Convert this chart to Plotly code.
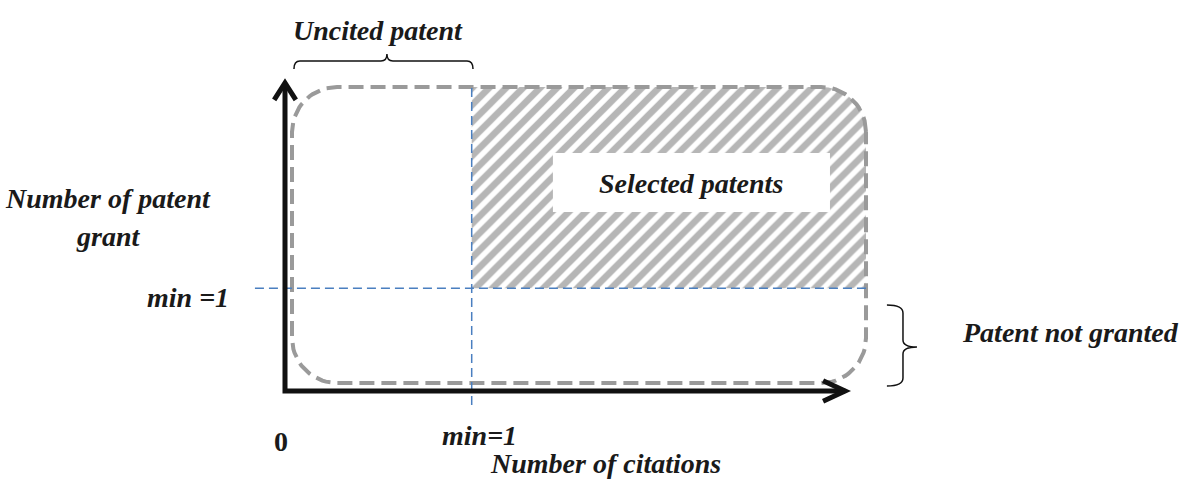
import numpy as np
import plotly.graph_objects as go

# conceptual axes: citations (x) and patent grants (y)
citation_marks = [0, 1]
citation_labels = ["<b>0</b>", "<b><i>min=1</i></b>"]
grant_marks = [1]
grant_labels = ["<b><i>min =1</i></b>"]
axis_end = 3

region_labels = ["Selected patents", "Uncited patent", "Patent not granted"]
axis_titles = ["Number of citations", "Number of patent", "grant"]

FONT = "Liberation Serif"
GRAY = "#9a9a9a"
BLUE = "#4a7fc0"

# rounded dashed envelope (data units)
box_l, box_r, box_b, box_t = 0.0375, 3.112, 0.078, 2.96
rx, ry = 0.241, 0.438


def arc(cx, cy, a0, a1, n=20):
    t = np.linspace(np.radians(a0), np.radians(a1), n)
    return list(cx + rx * np.cos(t)), list(cy + ry * np.sin(t))


def rounded_box():
    xs, ys = [], []
    for cx, cy, a0, a1 in [(box_r - rx, box_t - ry, 0, 90),
                           (box_l + rx, box_t - ry, 90, 180),
                           (box_l + rx, box_b + ry, 180, 270),
                           (box_r - rx, box_b + ry, 270, 360)]:
        ax, ay = arc(cx, cy, a0, a1)
        xs += ax
        ys += ay
    return xs + [xs[0]], ys + [ys[0]]


fig = go.Figure()

# hatched "selected" region: citations >= min and grants >= min
hx, hy = [citation_marks[1], citation_marks[1]], [grant_marks[0], box_t]
ax_, ay_ = arc(box_r - rx, box_t - ry, 90, 0)
hx += ax_ + [box_r, citation_marks[1]]
hy += ay_ + [grant_marks[0], grant_marks[0]]
fig.add_trace(go.Scatter(
    x=hx, y=hy, mode="lines", fill="toself", line=dict(width=0),
    fillcolor="white",
    fillpattern=dict(shape="/", size=12, solidity=0.55, fgcolor="#6e6e6e", bgcolor="white"),
    hoverinfo="skip", showlegend=False
))

bx, by = rounded_box()
fig.add_trace(go.Scatter(
    x=bx, y=by, mode="lines", line=dict(color=GRAY, width=4, dash="15px,7px"),
    hoverinfo="skip", showlegend=False
))

shapes = []
# white label box
shapes.append(dict(type="rect", x0=1.435, x1=2.919, y0=1.743, y1=2.317,
                   fillcolor="white", line=dict(width=0)))
# blue threshold lines
shapes.append(dict(type="line", x0=citation_marks[1], x1=citation_marks[1], y0=-0.136, y1=box_t,
                   line=dict(color=BLUE, width=1.5, dash="9px,5px")))
shapes.append(dict(type="line", x0=-0.161, x1=box_r, y0=grant_marks[0], y1=grant_marks[0],
                   line=dict(color=BLUE, width=1.5, dash="9px,5px")))
# axes with arrow heads
shapes.append(dict(type="path", path=f"M 0,{axis_end} L 0,0 L {axis_end},0",
                   line=dict(color="#111111", width=5)))
shapes.append(dict(type="path", path=f"M -0.058,{axis_end - 0.165} L 0,{axis_end} L 0.058,{axis_end - 0.165}",
                   line=dict(color="#111111", width=5)))
shapes.append(dict(type="path", path=f"M {axis_end - 0.118},0.1 L {axis_end},0 L {axis_end - 0.118},-0.1",
                   line=dict(color="#111111", width=5)))
# braces
shapes.append(dict(type="path",
                   path="M 0.048,3.135 Q 0.048,3.213 0.08,3.213 L 0.514,3.213 Q 0.546,3.213 0.546,3.281 "
                        "Q 0.546,3.213 0.578,3.213 L 0.975,3.213 Q 1.007,3.213 1.007,3.135",
                   line=dict(color="#111111", width=1.5)))
shapes.append(dict(type="path",
                   path="M 3.224,0.837 Q 3.31,0.837 3.31,0.759 L 3.31,0.497 Q 3.31,0.428 3.385,0.428 "
                        "Q 3.31,0.428 3.31,0.36 L 3.31,0.127 Q 3.31,0.049 3.224,0.049",
                   line=dict(color="#111111", width=1.5)))

font = dict(family=FONT, size=28, color="#1a1a1a")
ann = []
ann.append(dict(x=2.175, y=2.025, text=f"<b><i>{region_labels[0]}</i></b>"))
ann.append(dict(x=0.498, y=3.515, text=f"<b><i>{region_labels[1]}</i></b>"))
ann.append(dict(x=4.205, y=0.574, text=f"<b><i>{region_labels[2]}</i></b>"))
ann.append(dict(x=1.719, y=-0.71, text=f"<b><i>{axis_titles[0]}</i></b>"))
ann.append(dict(x=-0.948, y=1.879, text=f"<b><i>{axis_titles[1]}</i></b>"))
ann.append(dict(x=-0.948, y=1.509, text=f"<b><i>{axis_titles[2]}</i></b>"))
for v, lab, yy in zip(citation_marks, citation_labels, [-0.487, -0.438]):
    ann.append(dict(x=v + (-0.021 if v == 0 else 0.044), y=yy, text=lab))
for v, lab in zip(grant_marks, grant_labels):
    ann.append(dict(x=-0.52, y=v - 0.085, text=lab))
for a in ann:
    a.update(xref="x", yref="y", showarrow=False, font=font, xanchor="center", yanchor="middle")

fig.update_layout(
    width=1184, height=480,
    margin=dict(l=0, r=0, t=0, b=0),
    paper_bgcolor="white", plot_bgcolor="white",
    shapes=shapes, annotations=ann, showlegend=False,
    xaxis=dict(range=[-1.5265, 4.8152], visible=False, fixedrange=True),
    yaxis=dict(range=[-0.8666, 3.8072], visible=False, fixedrange=True),
)

fig.write_html("out.html", config={"displayModeBar": False})

# drop the default page margin so the figure sits at the window's corner
with open("out.html", encoding="utf-8") as f:
    html = f.read()
html = html.replace("<body>", '<body style="margin:0">', 1)
with open("out.html", "w", encoding="utf-8") as f:
    f.write(html)
